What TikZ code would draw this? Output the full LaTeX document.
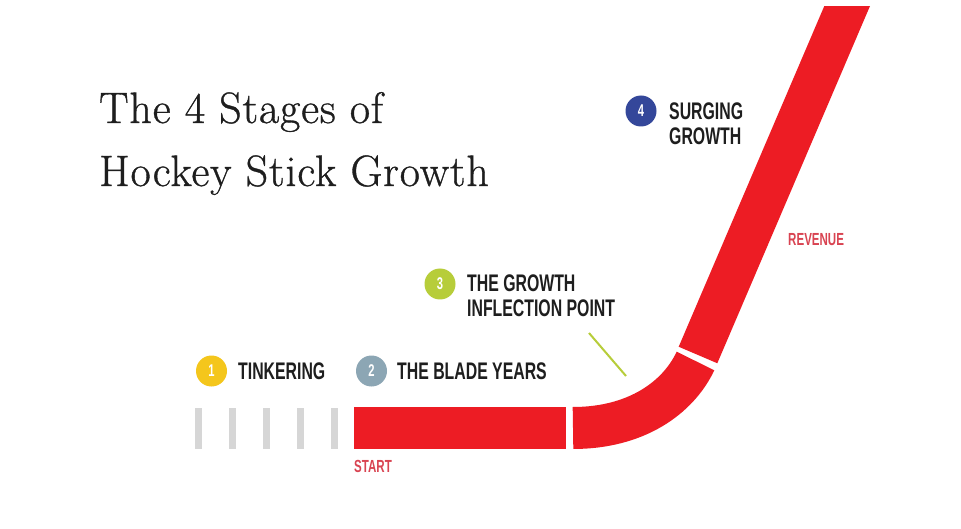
\documentclass[tikz,border=0pt]{standalone}
\usepackage{fontspec}
\newfontfamily\condfont[FakeStretch=0.66]{Liberation Sans}
\newfontfamily\titlefont[FakeBold=0.8, LetterSpace=2]{Latin Modern Roman}
\definecolor{stickred}{HTML}{ED1C24}
\definecolor{labelred}{HTML}{D94452}
\definecolor{tickgray}{HTML}{D6D6D6}
\definecolor{inkdark}{HTML}{1E1E1E}
\definecolor{stageone}{HTML}{F4C61C}
\definecolor{stagetwo}{HTML}{8CA6B4}
\definecolor{stagethree}{HTML}{B7CD3A}
\definecolor{stagefour}{HTML}{34479A}
\tikzset{
  stick/.style={draw=stickred, line width=42pt, line cap=butt},
  tick/.style={fill=tickgray, draw=none},
  badge/.style={circle, minimum size=31pt, inner sep=0pt, text=white,
    font=\condfont\bfseries\fontsize{17}{17}\selectfont},
  stagelabel/.style={anchor=west, inner sep=0pt, text=inkdark, align=left,
    font=\condfont\bfseries\fontsize{24}{25}\selectfont},
  axislabel/.style={anchor=west, inner sep=0pt, text=labelred,
    font=\condfont\bfseries\fontsize{17.5}{17.5}\selectfont},
  pointer/.style={draw=stagethree, line width=2pt},
}
\begin{document}
\begin{tikzpicture}[x=1pt, y=-1pt]
  \useasboundingbox[fill=white] (0,0) rectangle (961,529);

  % title (base anchor sits on the last line)
  \node[anchor=base west, inner sep=0pt, align=left, text=inkdark,
        font=\titlefont\fontsize{44}{63}\selectfont] (title) at (99,186)
        {The 4 Stages of\\Hockey Stick Growth};

  % early tinkering: grey dashes
  \foreach \x [count=\i] in {195,229,263,297,331}
    \fill[tick] (\x,408) rectangle ++(7,41);

  % the stick: blade, bend, and rising shaft
  \coordinate (bladeL) at (354,428);
  \coordinate (bladeR) at (566,428);
  \coordinate (bendL) at (573,428);
  \coordinate (bendR) at (695.5,361);
  \coordinate (shaftB) at (698,355);
  \coordinate (shaftT) at (851,-3);
  \draw[stick] (bladeL) -- (bladeR);
  \draw[stick] (bendL) .. controls (636,428) and (678,398) .. (bendR);
  \begin{scope}
    \clip (0,7) rectangle (961,529);
    \draw[stick] (shaftB) -- (shaftT);
  \end{scope}

  % stage badges and labels
  \node[badge, fill=stageone] (b1) at (211.5,371) {1};
  \node[stagelabel] (l1) at (238,371) {TINKERING};
  \node[badge, fill=stagetwo] (b2) at (371.5,371) {2};
  \node[stagelabel] (l2) at (397,371) {THE BLADE YEARS};
  \node[badge, fill=stagethree] (b3) at (440,284) {3};
  \node[stagelabel] (l3) at (467,296) {THE GROWTH\\INFLECTION POINT};
  \node[badge, fill=stagefour] (b4) at (641,111) {4};
  \node[stagelabel] (l4) at (669,124) {SURGING\\GROWTH};

  % pointer from stage 3 to the bend
  \coordinate (p3a) at (589,333);
  \coordinate (p3b) at (626,376);
  \draw[pointer] (p3a) -- (p3b);

  % axis words
  \node[axislabel] (rev) at (788,240) {REVENUE};
  \node[axislabel] (start) at (354,466) {START};
\end{tikzpicture}
\end{document}
